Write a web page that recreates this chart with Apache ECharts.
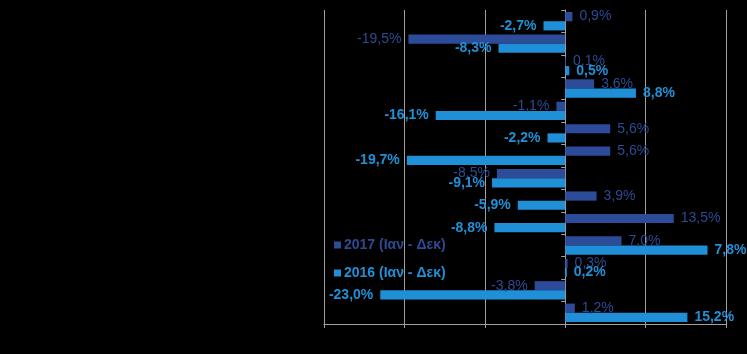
<!DOCTYPE html>
<html>
<head>
<meta charset="utf-8">
<script src="https://cdn.jsdelivr.net/npm/echarts@6/dist/echarts.min.js"></script>
<style>
    html, body { margin: 0; padding: 0; background: #000; }
    #chart { width: 747px; height: 354px; }
</style>
</head>
<body>
<div id="chart"></div>
<script>
    // category names are not shown in the picture
    var categories = ['1', '2', '3', '4', '5', '6', '7', '8', '9', '10', '11', '12', '13', '14'];
    var seriesNames = ['2017 (Ιαν - Δεκ)', '2016 (Ιαν - Δεκ)'];
    var values2017 = [0.9, -19.5, 0.1, 3.6, -1.1, 5.6, 5.6, -8.5, 3.9, 13.5, 7.0, 0.3, -3.8, 1.2];
    var values2016 = [-2.7, -8.3, 0.5, 8.8, -16.1, -2.2, -19.7, -9.1, -5.9, -8.8, 17.7, 0.2, -23.0, 15.2];
    // printed text where the picture's label differs from the bar length
    var labels2016 = { 10: '7,8%' };

    var colors = ['#2c4b98', '#1f8fd8'];
    var labelColors = ['#2d4a92', '#2190d6'];

    function fmt(v) {
        return v.toFixed(1).replace('.', ',') + '%';
    }

    function buildData(values, overrides) {
        return values.map(function (v, i) {
            var text = (overrides && overrides[i]) || fmt(v);
            return {
                value: v,
                label: {
                    position: v < 0 ? 'left' : 'right',
                    formatter: text
                }
            };
        });
    }

    var chart = echarts.init(document.getElementById('chart'));
    var options = {
        backgroundColor: '#000',
        animation: false,
        grid: {
            left: 324,
            right: 21,
            top: 10,
            bottom: 30
        },
        legend: {
            orient: 'vertical',
            left: 329,
            top: 233,
            itemWidth: 7,
            itemHeight: 7,
            itemGap: 14,
            icon: 'rect',
            textStyle: {
                fontFamily: 'Liberation Sans, Arial',
                fontSize: 14,
                fontWeight: 'bold',
                padding: [0, 0, 0, -2]
            },
            data: [
                { name: seriesNames[0], textStyle: { color: labelColors[0] } },
                { name: seriesNames[1], textStyle: { color: labelColors[1] } }
            ]
        },
        xAxis: {
            type: 'value',
            min: -30,
            max: 20,
            interval: 10,
            axisLabel: { show: false },
            axisLine: { show: true, lineStyle: { color: '#a0a0a0', width: 1 } },
            axisTick: { show: true, length: 4, lineStyle: { color: '#a0a0a0' } },
            splitLine: { show: true, lineStyle: { color: '#a0a0a0', width: 1 } }
        },
        yAxis: {
            type: 'category',
            inverse: true,
            data: categories,
            axisLabel: { show: false },
            axisLine: { show: true, onZero: true, lineStyle: { color: '#a0a0a0', width: 1 } },
            axisTick: { show: true, length: 4, lineStyle: { color: '#a0a0a0' } },
            splitLine: { show: false }
        },
        series: [
            {
                name: seriesNames[0],
                type: 'bar',
                data: buildData(values2017),
                itemStyle: { color: colors[0] },
                barGap: '0%',
                barCategoryGap: '18%',
                label: {
                    show: true,
                    distance: 7,
                    color: labelColors[0],
                    fontFamily: 'Liberation Sans, Arial',
                    fontSize: 14
                }
            },
            {
                name: seriesNames[1],
                type: 'bar',
                data: buildData(values2016, labels2016),
                itemStyle: { color: colors[1] },
                barGap: '0%',
                barCategoryGap: '18%',
                label: {
                    show: true,
                    distance: 7,
                    color: labelColors[1],
                    fontFamily: 'Liberation Sans, Arial',
                    fontSize: 14,
                    fontWeight: 'bold'
                }
            }
        ]
    };
    chart.setOption(options);
</script>
</body>
</html>
